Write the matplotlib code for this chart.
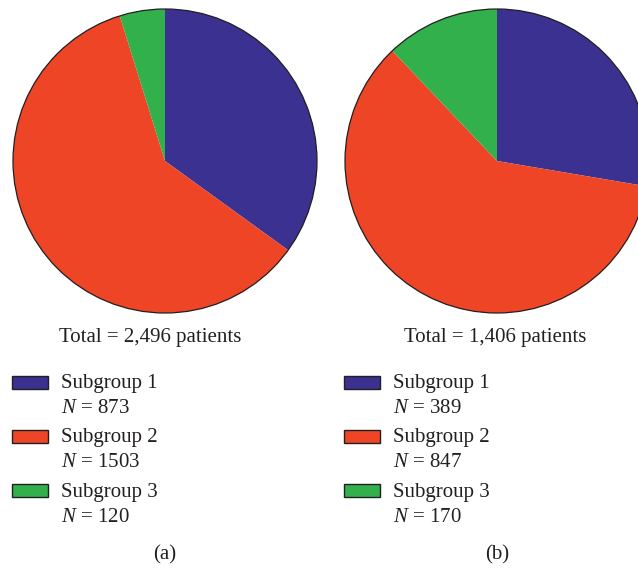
import matplotlib
matplotlib.use("Agg")
import matplotlib.pyplot as plt
from matplotlib.patches import Rectangle

plt.rcParams['font.family'] = ['Liberation Serif', 'DejaVu Serif']
plt.rcParams['mathtext.fontset'] = 'custom'
plt.rcParams['mathtext.rm'] = 'Liberation Serif'
plt.rcParams['mathtext.it'] = 'Liberation Serif:italic'

categories = ["Subgroup 1", "Subgroup 2", "Subgroup 3"]
values_a = [873, 1503, 120]
values_b = [389, 847, 170]
totals = ["2,496", "1,406"]
panel_labels = ["(a)", "(b)"]
colors = ["#3A3190", "#EE4526", "#32B04C"]

W, H = 638, 569
fig = plt.figure(figsize=(W / 100, H / 100), dpi=100)
FS = 15

def fx(px):
    return px / W

def fy(py):
    return 1 - py / H

R = 152
centers = [(165, 161), (497, 161)]
text_centers = [150, 495]
legend_left = [12, 344]

for i, vals in enumerate([values_a, values_b]):
    cx, cy = centers[i]
    ax = fig.add_axes([fx(cx - R), fy(cy + R), (2 * R) / W, (2 * R) / H])
    ax.pie(vals, colors=colors, startangle=90, counterclock=False,
           wedgeprops=dict(linewidth=0), radius=1)
    circ = plt.Circle((0, 0), 1, fill=False, edgecolor="#231f20",
                      linewidth=0.9, clip_on=False)
    ax.add_patch(circ)
    ax.set_xlim(-1, 1)
    ax.set_ylim(-1, 1)
    ax.set_aspect('equal')
    ax.axis('off')

    fig.text(fx(text_centers[i]), fy(342), f"Total = {totals[i]} patients",
             ha='center', va='baseline', fontsize=FS, color="#231f20")

    lx = legend_left[i]
    patch_centers = [382.5, 436, 490]
    sub_base = [388, 442, 497]
    n_base = [413, 467, 522]
    for j, cat in enumerate(categories):
        rect = Rectangle((fx(lx), fy(patch_centers[j] + 6.5)), 36 / W, 13 / H,
                         transform=fig.transFigure, facecolor=colors[j],
                         edgecolor="#231f20", linewidth=1.0)
        fig.patches.append(rect)
        fig.text(fx(lx + 49), fy(sub_base[j]), cat, ha='left', va='baseline',
                 fontsize=FS, color="#231f20")
        fig.text(fx(lx + 49), fy(n_base[j]), f"$N$ = {vals[j]}", ha='left',
                 va='baseline', fontsize=FS, color="#231f20")

    fig.text(fx(centers[i][0]), fy(559), panel_labels[i], ha='center',
             va='baseline', fontsize=FS, color="#231f20")

fig.savefig("out.png", dpi=100)
